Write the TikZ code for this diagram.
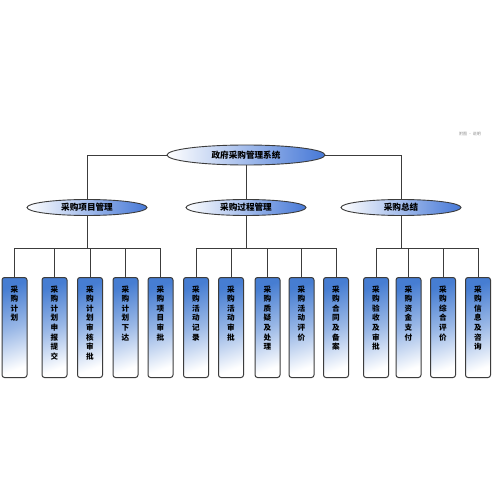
\documentclass[tikz,border=0pt]{standalone}
\usepackage{fontspec}
\newfontfamily\cjk{Noto Sans CJK SC}
\usetikzlibrary{shapes.geometric}
\definecolor{lnc}{RGB}{60,60,60}
\definecolor{ellblue}{RGB}{70,120,215}
\definecolor{boxblue}{RGB}{70,125,210}
\newcommand{\vtxt}[1]{\parbox[c][84pt][t]{12pt}{\centering\fontsize{7.6}{9.6}\selectfont\bfseries #1}}
\tikzset{
  conn/.style={draw=lnc, line width=0.9pt},
  topell/.style={ellipse, draw=lnc, line width=0.9pt, left color=white, right color=ellblue,
    minimum width=158pt, minimum height=20pt, inner sep=0pt, font=\cjk\bfseries\fontsize{8.6}{10}\selectfont},
  midell/.style={ellipse, draw=lnc, line width=0.9pt, left color=white, right color=ellblue,
    minimum width=120pt, minimum height=16pt, inner sep=0pt, font=\cjk\bfseries\fontsize{8.6}{10}\selectfont},
  leaf/.style={rectangle, rounded corners=2.5pt, draw=lnc, line width=1pt,
    top color=boxblue, bottom color=white, middle color=boxblue!55!white, shading angle=20,
    minimum width=25pt, minimum height=100pt, inner sep=0pt, font=\cjk, anchor=north},
  note/.style={font=\cjk\fontsize{4}{5}\selectfont, text=black!45, inner sep=0pt}
}
\begin{document}
\begin{tikzpicture}[x=1pt,y=-1pt]
\useasboundingbox (0,0) rectangle (500,500);
\fill[white] (0,0) rectangle (500,500);
\node[note] (nt) at (470,134) {附图 · 说明};
\node[topell] (top) at (246,155) {政府采购管理系统};
\node[midell] (m1) at (87,207.5) {采购项目管理};
\node[midell] (m2) at (246,207.5) {采购过程管理};
\node[midell] (m3) at (401,207.5) {采购总结};
\coordinate (busy) at (0,248);
\node[leaf] (b1) at (14.5,277) {\vtxt{采\\购\\计\\划}};
\node[leaf] (b2) at (54.5,277) {\vtxt{采\\购\\计\\划\\申\\报\\提\\交}};
\node[leaf] (b3) at (90,277) {\vtxt{采\\购\\计\\划\\审\\核\\审\\批}};
\node[leaf] (b4) at (125.5,277) {\vtxt{采\\购\\计\\划\\下\\达}};
\node[leaf] (b5) at (160.5,277) {\vtxt{采\\购\\项\\目\\审\\批}};
\node[leaf] (b6) at (196,277) {\vtxt{采\\购\\活\\动\\记\\录}};
\node[leaf] (b7) at (231,277) {\vtxt{采\\购\\活\\动\\审\\批}};
\node[leaf] (b8) at (267.5,277) {\vtxt{采\\购\\质\\疑\\及\\处\\理}};
\node[leaf] (b9) at (301.5,277) {\vtxt{采\\购\\活\\动\\评\\价}};
\node[leaf] (b10) at (336,277) {\vtxt{采\\购\\合\\同\\及\\备\\案}};
\node[leaf] (b11) at (376,277) {\vtxt{采\\购\\验\\收\\及\\审\\批}};
\node[leaf] (b12) at (408.5,277) {\vtxt{采\\购\\资\\金\\支\\付}};
\node[leaf] (b13) at (443,277) {\vtxt{采\\购\\综\\合\\评\\价}};
\node[leaf] (b14) at (478,277) {\vtxt{采\\购\\信\\息\\及\\咨\\询}};
% top level connectors
\draw[conn] (top.west) -| (m1.north);
\draw[conn] (top.east) -| (m3.north);
\draw[conn] (top.south) -- (m2.north);
% level 2 to buses
\draw[conn] (m1.south) -- (m1.south |- busy);
\draw[conn] (m2.south) -- (m2.south |- busy);
\draw[conn] (m3.south) -- (m3.south |- busy);
\draw[conn] (b1.north) |- (b5.north |- busy) -- (b5.north);
\draw[conn] (b6.north) |- (b10.north |- busy) -- (b10.north);
\draw[conn] (b11.north) |- (b14.north |- busy) -- (b14.north);
\foreach \b in {b2,b3,b4,b7,b8,b9,b12,b13}{
  \draw[conn] (\b.north) -- (\b.north |- busy);
}
\end{tikzpicture}
\end{document}
